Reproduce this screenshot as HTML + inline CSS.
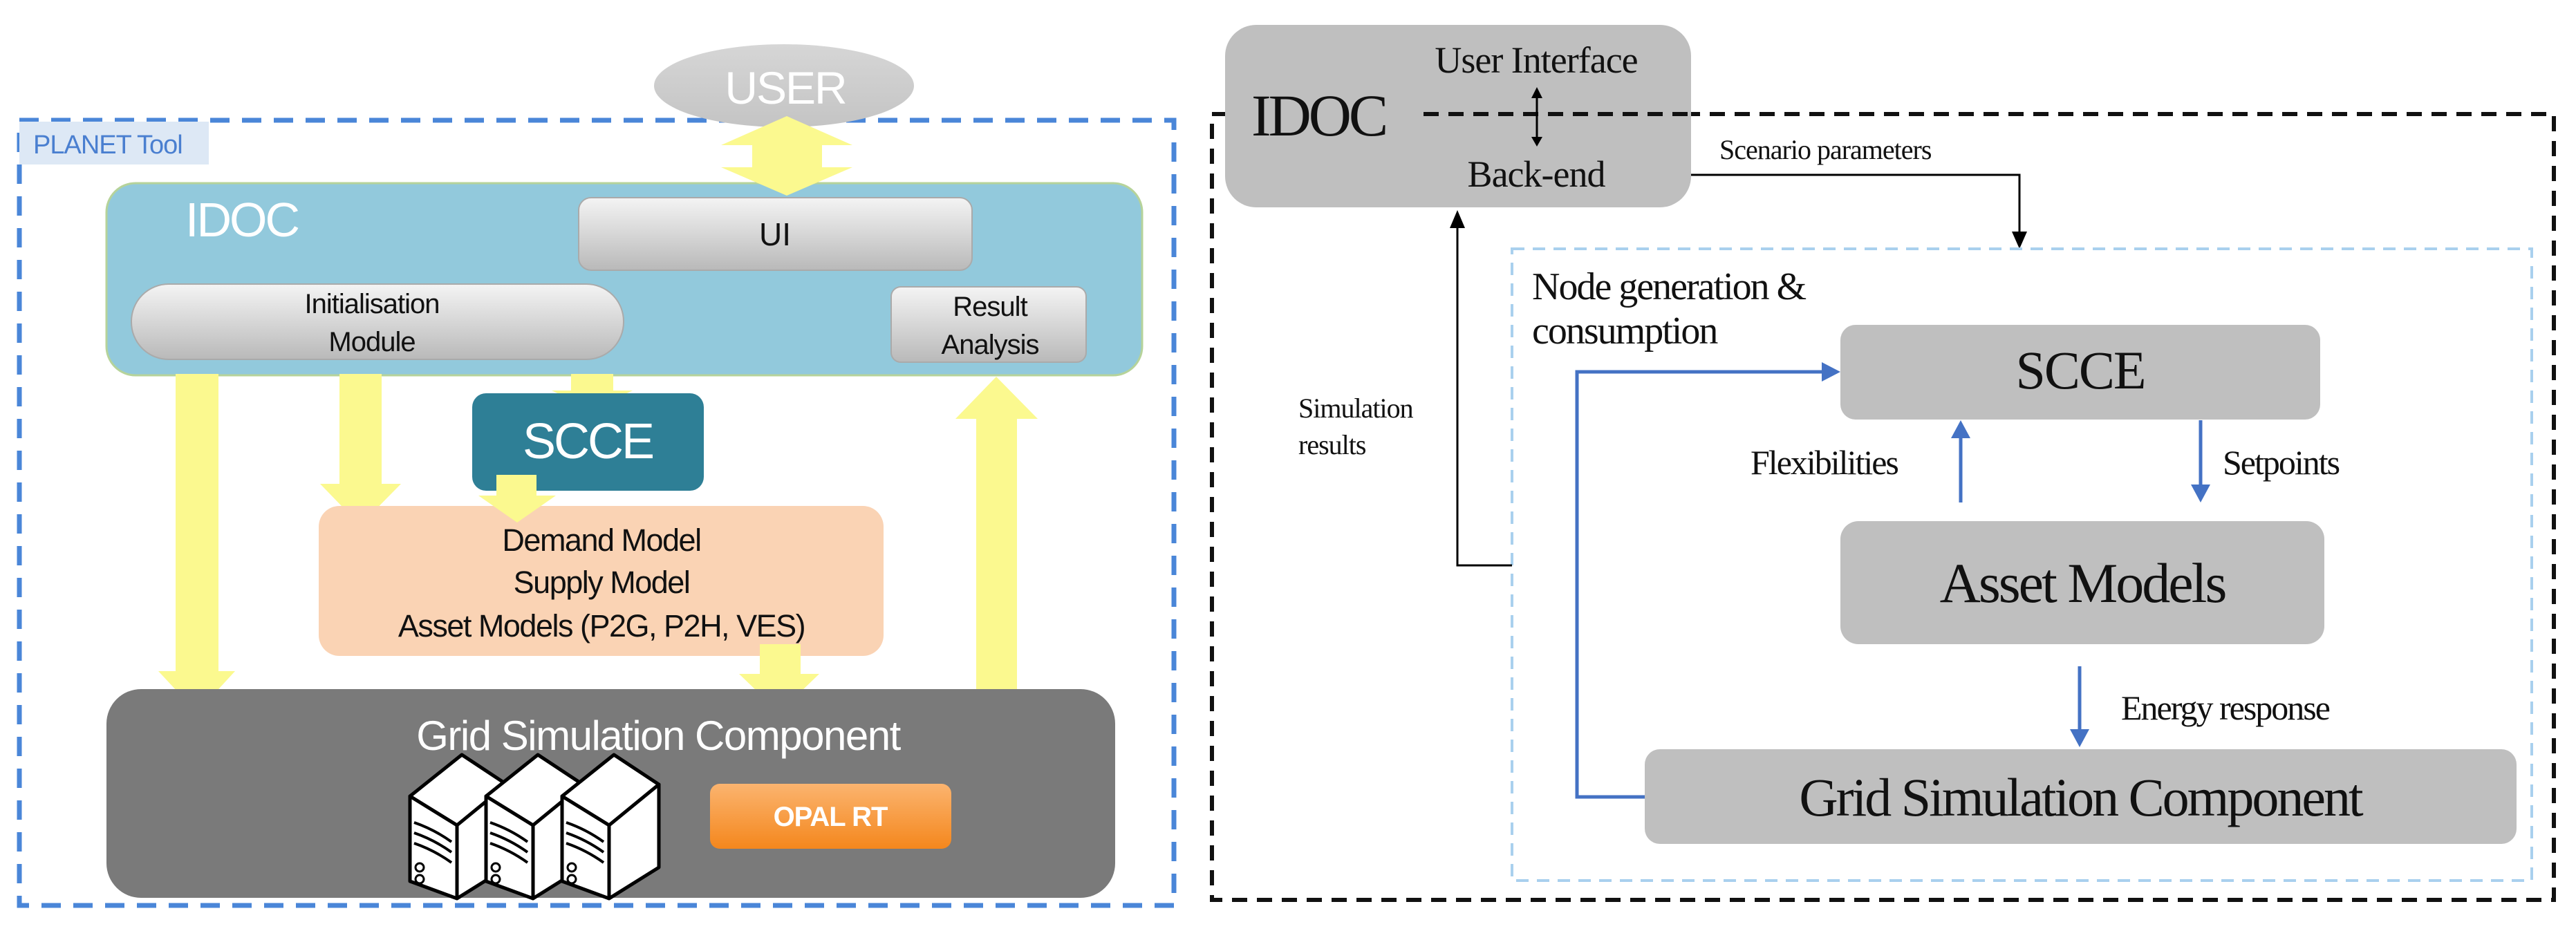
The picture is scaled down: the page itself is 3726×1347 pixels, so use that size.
<!DOCTYPE html>
<html><head><meta charset="utf-8"><style>
html,body{margin:0;padding:0;background:#fff;}
svg{display:block;}
</style></head><body>
<svg width="3726" height="1347" viewBox="0 0 3726 1347" xmlns="http://www.w3.org/2000/svg">
<defs>
<linearGradient id="gbtn" x1="0" y1="0" x2="0" y2="1"><stop offset="0" stop-color="#f4f4f4"/><stop offset="1" stop-color="#b9b9b9"/></linearGradient>
<linearGradient id="guser" x1="0" y1="0" x2="0" y2="1"><stop offset="0" stop-color="#d6d6d6"/><stop offset="1" stop-color="#c4c4c4"/></linearGradient>
<linearGradient id="gopal" x1="0" y1="0" x2="0" y2="1"><stop offset="0" stop-color="#fbb46f"/><stop offset="1" stop-color="#f4871d"/></linearGradient>
<g id="srv" stroke="#000" stroke-width="5" stroke-linejoin="round" fill="#fff">
<polygon points="0,62 75,2 140,45 68,104"/>
<polygon points="0,62 68,104 68,210 0,185"/>
<polygon points="68,104 140,45 140,165 68,210"/>
<path d="M6,100 Q35,110 60,128 M6,115 Q35,125 60,143 M6,130 Q35,140 60,158" fill="none" stroke-width="4"/>
<circle cx="14" cy="165" r="6" stroke-width="3"/><circle cx="14" cy="182" r="6" stroke-width="3"/>
</g>
</defs>

<!-- LEFT PANEL -->
<rect x="28" y="174" width="1670" height="1136" fill="none" stroke="#4a86d8" stroke-width="7" stroke-dasharray="28,18"/>
<rect x="28" y="176" width="274" height="62" fill="#dde8f5"/>
<text x="48" y="222" font-family="Liberation Sans, sans-serif" font-size="38" fill="#4a7fd0" letter-spacing="-1">PLANET Tool</text>

<ellipse cx="1134" cy="124" rx="188" ry="60" fill="url(#guser)"/>
<text x="1136" y="150" text-anchor="middle" font-family="Liberation Sans, sans-serif" font-size="66" fill="#fff" letter-spacing="-2">USER</text>

<!-- IDOC -->
<rect x="154" y="265" width="1498" height="278" rx="42" fill="#92c9dc" stroke="#b6d39a" stroke-width="3"/>
<text x="268" y="342" font-family="Liberation Sans, sans-serif" font-size="70" fill="#fff" letter-spacing="-3">IDOC</text>
<!-- user double arrow -->
<polygon points="1138,168 1233,210 1189,210 1189,242 1233,242 1138,283 1043,242 1088,242 1088,210 1043,210" fill="#fbf98f"/>
<rect x="837" y="286" width="569" height="105" rx="18" fill="url(#gbtn)" stroke="#aaa" stroke-width="2"/>
<text x="1121" y="355" text-anchor="middle" font-family="Liberation Sans, sans-serif" font-size="46" fill="#111">UI</text>
<rect x="190" y="411" width="712" height="109" rx="54" fill="url(#gbtn)" stroke="#aaa" stroke-width="2"/>
<text x="538" y="453" text-anchor="middle" font-family="Liberation Sans, sans-serif" font-size="40" fill="#111" letter-spacing="-1">Initialisation</text>
<text x="538" y="508" text-anchor="middle" font-family="Liberation Sans, sans-serif" font-size="40" fill="#111" letter-spacing="-1">Module</text>
<rect x="1289" y="415" width="282" height="109" rx="14" fill="url(#gbtn)" stroke="#aaa" stroke-width="2"/>
<text x="1432" y="457" text-anchor="middle" font-family="Liberation Sans, sans-serif" font-size="40" fill="#111" letter-spacing="-1">Result</text>
<text x="1432" y="512" text-anchor="middle" font-family="Liberation Sans, sans-serif" font-size="40" fill="#111" letter-spacing="-1">Analysis</text>

<!-- yellow arrows -->
<polygon points="254,541 316,541 316,971 340,971 285,1031 229,971 254,971" fill="#fbf98f"/>
<polygon points="491,541 552,541 552,700 580,700 521,760 463,700 491,700" fill="#fbf98f"/>
<polygon points="826,541 887,541 887,565 915,565 857,593 798,565 826,565" fill="#fbf98f"/>

<rect x="683" y="569" width="335" height="141" rx="20" fill="#2e7f96"/>
<text x="850" y="663" text-anchor="middle" font-family="Liberation Sans, sans-serif" font-size="72" fill="#fff" letter-spacing="-3">SCCE</text>

<rect x="461" y="732" width="817" height="217" rx="30" fill="#fad3b4"/>
<polygon points="718,687 776,687 776,717 804,717 748,756 692,717 718,717" fill="#fbf98f"/>
<text x="870" y="797" text-anchor="middle" font-family="Liberation Sans, sans-serif" font-size="45" fill="#111" letter-spacing="-1.5">Demand Model</text>
<text x="870" y="858" text-anchor="middle" font-family="Liberation Sans, sans-serif" font-size="45" fill="#111" letter-spacing="-1.5">Supply Model</text>
<text x="870" y="921" text-anchor="middle" font-family="Liberation Sans, sans-serif" font-size="45" fill="#111" letter-spacing="-1.5">Asset Models (P2G, P2H, VES)</text>

<polygon points="1099,932 1158,932 1158,975 1185,975 1127,1031 1069,975 1099,975" fill="#fbf98f"/>
<polygon points="1412,1000 1471,1000 1471,606 1501,606 1441,545 1382,606 1412,606" fill="#fbf98f"/>

<rect x="154" y="997" width="1459" height="302" rx="50" fill="#7a7a7a"/>
<text x="952" y="1085" text-anchor="middle" font-family="Liberation Sans, sans-serif" font-size="60" fill="#fff" letter-spacing="-1.5">Grid Simulation Component</text>
<use href="#srv" x="593" y="1090"/>
<use href="#srv" x="703" y="1090"/>
<use href="#srv" x="813" y="1090"/>
<rect x="1027" y="1134" width="349" height="94" rx="14" fill="url(#gopal)"/>
<text x="1201" y="1195" text-anchor="middle" font-family="Liberation Sans, sans-serif" font-size="40" font-weight="bold" fill="#fff" letter-spacing="-1">OPAL RT</text>

<!-- RIGHT PANEL -->
<rect x="1753" y="165" width="1941" height="1137" fill="none" stroke="#111" stroke-width="6" stroke-dasharray="22,14"/>
<rect x="1772" y="36" width="674" height="264" rx="45" fill="#bfbfbf"/>
<line x1="2059" y1="165" x2="2446" y2="165" stroke="#111" stroke-width="6" stroke-dasharray="22,14"/>
<text x="1810" y="196" font-family="Liberation Serif, serif" font-size="86" fill="#111" letter-spacing="-4">IDOC</text>
<text x="2222" y="105" text-anchor="middle" font-family="Liberation Serif, serif" font-size="54" fill="#111" letter-spacing="-1">User Interface</text>
<text x="2222" y="270" text-anchor="middle" font-family="Liberation Serif, serif" font-size="54" fill="#111" letter-spacing="-1">Back-end</text>
<line x1="2223" y1="140" x2="2223" y2="200" stroke="#000" stroke-width="3"/>
<path d="M2215,142L2223,126L2231,142zM2215,198L2223,212L2231,198z" fill="#000"/>

<polyline points="2446,253 2921,253 2921,340" fill="none" stroke="#000" stroke-width="3"/>
<path d="M2910,335L2921,360L2932,335z" fill="#000"/>
<text x="2487" y="230" font-family="Liberation Serif, serif" font-size="40" fill="#111" letter-spacing="-1">Scenario parameters</text>

<rect x="2187" y="360" width="1475" height="914" fill="none" stroke="#a9d0ee" stroke-width="4" stroke-dasharray="18,12"/>

<polyline points="2187,818 2108,818 2108,325" fill="none" stroke="#000" stroke-width="3"/>
<path d="M2097,330L2108,304L2119,330z" fill="#000"/>
<text x="1878" y="604" font-family="Liberation Serif, serif" font-size="40" fill="#111" letter-spacing="-1">Simulation</text>
<text x="1878" y="657" font-family="Liberation Serif, serif" font-size="40" fill="#111" letter-spacing="-1">results</text>

<text x="2216" y="433" font-family="Liberation Serif, serif" font-size="56" fill="#111" letter-spacing="-2">Node generation &amp;</text>
<text x="2216" y="497" font-family="Liberation Serif, serif" font-size="56" fill="#111" letter-spacing="-2">consumption</text>

<rect x="2662" y="470" width="694" height="137" rx="22" fill="#bfbfbf"/>
<text x="3009" y="562" text-anchor="middle" font-family="Liberation Serif, serif" font-size="78" fill="#111" letter-spacing="-2">SCCE</text>
<rect x="2662" y="754" width="700" height="178" rx="26" fill="#bfbfbf"/>
<text x="3012" y="871" text-anchor="middle" font-family="Liberation Serif, serif" font-size="82" fill="#111" letter-spacing="-3">Asset Models</text>
<rect x="2379" y="1084" width="1261" height="137" rx="22" fill="#bfbfbf"/>
<text x="3009" y="1180" text-anchor="middle" font-family="Liberation Serif, serif" font-size="78" fill="#111" letter-spacing="-3">Grid Simulation Component</text>

<polyline points="2379,1153 2281,1153 2281,538 2640,538" fill="none" stroke="#4472c4" stroke-width="5"/>
<path d="M2635,524L2662,538L2635,552z" fill="#4472c4"/>
<line x1="2836" y1="727" x2="2836" y2="630" stroke="#4472c4" stroke-width="5"/>
<path d="M2822,634L2836,608L2850,634z" fill="#4472c4"/>
<text x="2532" y="686" font-family="Liberation Serif, serif" font-size="50" fill="#111" letter-spacing="-2">Flexibilities</text>
<line x1="3183" y1="608" x2="3183" y2="705" stroke="#4472c4" stroke-width="5"/>
<path d="M3169,701L3183,727L3197,701z" fill="#4472c4"/>
<text x="3215" y="686" font-family="Liberation Serif, serif" font-size="50" fill="#111" letter-spacing="-2">Setpoints</text>
<line x1="3008" y1="964" x2="3008" y2="1058" stroke="#4472c4" stroke-width="5"/>
<path d="M2994,1055L3008,1081L3022,1055z" fill="#4472c4"/>
<text x="3068" y="1041" font-family="Liberation Serif, serif" font-size="50" fill="#111" letter-spacing="-2">Energy response</text>
</svg>
</body></html>
